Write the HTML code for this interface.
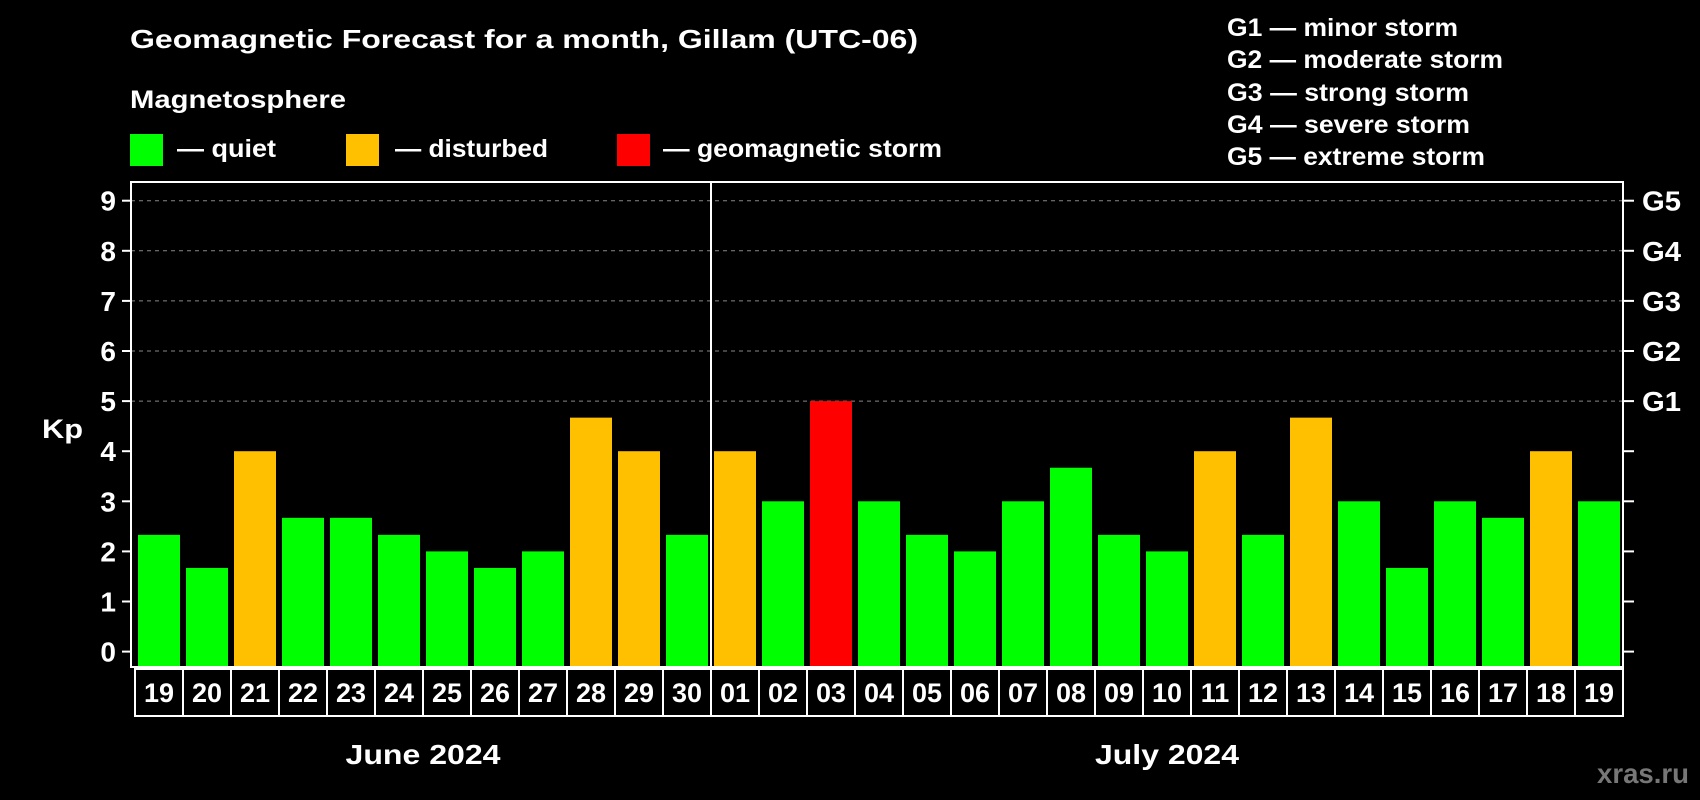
<!DOCTYPE html>
<html><head><meta charset="utf-8"><style>
html,body{margin:0;padding:0;background:#000;width:1700px;height:800px;overflow:hidden}
svg{display:block;font-family:"Liberation Sans",Arial,sans-serif;font-weight:bold}
</style></head><body>
<svg id="chart" width="1700" height="800" viewBox="0 0 1700 800">
<text x="130" y="48" fill="#fff" font-size="26" textLength="788" lengthAdjust="spacingAndGlyphs">Geomagnetic Forecast for a month, Gillam (UTC-06)</text>
<text x="130" y="108" fill="#fff" font-size="25" textLength="216" lengthAdjust="spacingAndGlyphs">Magnetosphere</text>
<rect x="130" y="134" width="33" height="32" fill="#00ff00"/>
<text x="177" y="157" fill="#fff" font-size="25" textLength="99" lengthAdjust="spacingAndGlyphs">— quiet</text>
<rect x="346" y="134" width="33" height="32" fill="#ffc000"/>
<text x="395" y="157" fill="#fff" font-size="25" textLength="153" lengthAdjust="spacingAndGlyphs">— disturbed</text>
<rect x="617" y="134" width="33" height="32" fill="#ff0000"/>
<text x="663" y="157" fill="#fff" font-size="25" textLength="279" lengthAdjust="spacingAndGlyphs">— geomagnetic storm</text>
<g fill="#fff" font-size="25">
<text x="1227" y="36" textLength="231" lengthAdjust="spacingAndGlyphs">G1 — minor storm</text>
<text x="1227" y="68" textLength="276" lengthAdjust="spacingAndGlyphs">G2 — moderate storm</text>
<text x="1227" y="101" textLength="242" lengthAdjust="spacingAndGlyphs">G3 — strong storm</text>
<text x="1227" y="133" textLength="243" lengthAdjust="spacingAndGlyphs">G4 — severe storm</text>
<text x="1227" y="165" textLength="258" lengthAdjust="spacingAndGlyphs">G5 — extreme storm</text>
</g>
<text x="42" y="438" fill="#fff" font-size="27" textLength="41" lengthAdjust="spacingAndGlyphs">Kp</text>
<text x="1597" y="783" fill="#777" font-size="28" textLength="92" lengthAdjust="spacingAndGlyphs">xras.ru</text>
<g id="grid"></g><g id="bars"></g><g id="axes"></g><g id="dates"></g>
</svg>
<script>
const dates=["19","20","21","22","23","24","25","26","27","28","29","30","01","02","03","04","05","06","07","08","09","10","11","12","13","14","15","16","17","18","19"];
const kp=[2.33,1.67,4,2.67,2.67,2.33,2,1.67,2,4.67,4,2.33,4,3,5,3,2.33,2,3,3.67,2.33,2,4,2.33,4.67,3,1.67,3,2.67,4,3];
const yTicks=[0,1,2,3,4,5,6,7,8,9];
const gLabels=["G1","G2","G3","G4","G5"];
const months=["June 2024","July 2024"];
const monthLen=[12,19];
const NS="http://www.w3.org/2000/svg";
const L=131,R=1623,T=182,B=667,x0=138,pitch=48,bw=42,y0=651.6,unit=50.1;
const y=v=>y0-v*unit, x=i=>x0+i*pitch;
function mk(t,a,p){const e=document.createElementNS(NS,t);for(const k in a)e.setAttribute(k,a[k]);p.appendChild(e);return e;}
const grid=document.getElementById('grid'),bars=document.getElementById('bars'),axes=document.getElementById('axes'),dg=document.getElementById('dates');
yTicks.forEach(v=>{
 if(v>=5){const g=mk('line',{x1:L,x2:R,y1:y(v),y2:y(v),stroke:'#888','stroke-dasharray':'4,4','stroke-width':1},grid);
 
 }
 const t1=mk('line',{x1:122,x2:L,y1:y(v),y2:y(v),stroke:'#fff','stroke-width':2},axes);
 
 
 const t2=mk('line',{x1:R,x2:R+11,y1:y(v),y2:y(v),stroke:'#fff','stroke-width':2},axes);
 
 
 const lb=mk('text',{x:116,y:y(v)+10,fill:'#fff','font-size':28,'text-anchor':'end'},axes);lb.textContent=v;
 
 
});
gLabels.forEach((g,i)=>{const t=mk('text',{x:1642,y:y(5+i)+10,fill:'#fff','font-size':28,textLength:39,lengthAdjust:'spacingAndGlyphs'},axes);t.textContent=g;
 
 });
kp.forEach((v,i)=>{
 const c=v>=5?'#ff0000':(v>=4?'#ffc000':'#00ff00');
 const r=mk('rect',{x:x(i),y:y(v),width:bw,height:B-y(v),fill:c},bars);
 
 
 const bx=mk('rect',{x:x(i)-3,y:B+2,width:pitch,height:47,fill:'none',stroke:'#fff','stroke-width':2},dg);
 
 
 const t=mk('text',{x:x(i)+bw/2,y:B+35,fill:'#fff','font-size':27,'text-anchor':'middle'},dg);t.textContent=dates[i];
 
 
});
const fr=mk('rect',{x:L,y:T,width:R-L,height:B-T,fill:'none',stroke:'#fff','stroke-width':2},axes);


let start=0;
const mLen=[155,144];
months.forEach((m,k)=>{
 const s=x(start)-3,e=x(start+monthLen[k])-3;
 if(k>0){const ln=mk('line',{x1:s,x2:s,y1:T,y2:B,stroke:'#fff','stroke-width':2},axes);
  
  }
 const t=mk('text',{x:(s+e)/2,y:764,fill:'#fff','font-size':28,'text-anchor':'middle',textLength:mLen[k],lengthAdjust:'spacingAndGlyphs'},dg);t.textContent=m;
 
 
 start+=monthLen[k];
});
</script>
</body></html>
